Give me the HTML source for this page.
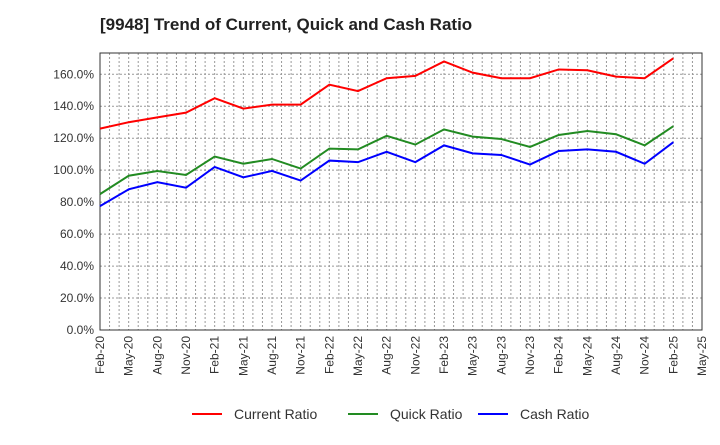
<!DOCTYPE html>
<html><head><meta charset="utf-8"><style>
body{margin:0;background:#fff;font-family:"Liberation Sans",sans-serif}
</style></head><body>
<svg id="c" width="720" height="440" xmlns="http://www.w3.org/2000/svg">
<text x="100" y="30" font-size="17" font-weight="bold" fill="#222">[9948]  Trend of Current, Quick and Cash Ratio</text>
</svg>
<script>
const categories=["Feb-20","May-20","Aug-20","Nov-20","Feb-21","May-21","Aug-21","Nov-21","Feb-22","May-22","Aug-22","Nov-22","Feb-23","May-23","Aug-23","Nov-23","Feb-24","May-24","Aug-24","Nov-24","Feb-25","May-25"];
const currentRatio=[126,130,133,136,145,138.5,141,141,153.5,149.5,157.5,159,168,161,157.5,157.5,163,162.5,158.5,157.5,170];
const quickRatio=[85,96.5,99.5,97,108.5,104,107,101,113.5,113,121.5,116,125.5,121,119.5,114.5,122,124.5,122.5,115.5,127.5];
const cashRatio=[77.5,88,92.5,89,102,95.5,99.5,93.5,106,105,111.5,105,115.5,110.5,109.5,103.5,112,113,111.5,104,117.5];
const yTicks=[0,20,40,60,80,100,120,140,160];
const NS="http://www.w3.org/2000/svg",svg=document.getElementById('c');
const L=100,R=702,T=53,B=330,yMax=173.3;
const x=i=>L+(R-L)*i/21, y=v=>B-(B-T)*v/yMax;
function mk(t,a,p){const e=document.createElementNS(NS,t);for(const k in a)e.setAttribute(k,a[k]);(p||svg).appendChild(e);return e;}
for(let m=1;m<63;m++){const xx=L+(R-L)*m/63;
const g=mk('line',{x1:xx,x2:xx,y1:T,y2:B,stroke:'#999','stroke-dasharray':'2,2','stroke-width':1});

}
yTicks.forEach(v=>{
const g=mk('line',{x1:L,x2:R,y1:y(v),y2:y(v),stroke:'#999','stroke-dasharray':'2,2'});


const t=mk('text',{x:L-6,y:y(v)+4,'text-anchor':'end','font-size':12,fill:'#333'});t.textContent=v.toFixed(1)+'%';

});
categories.forEach((c,i)=>{
const t=mk('text',{transform:`translate(${x(i)+4},${B+6}) rotate(-90)`,'text-anchor':'end','font-size':12,fill:'#333'});t.textContent=c;

});
const fr=mk('rect',{x:L,y:T,width:R-L,height:B-T,fill:'none',stroke:'#333'});


[[currentRatio,'#f00','current-ratio-line'],[quickRatio,'#228b22','quick-ratio-line'],[cashRatio,'#00f','cash-ratio-line']].forEach(([d,col,n])=>{
const p=mk('polyline',{points:d.map((v,i)=>x(i)+','+y(v)).join(' '),fill:'none',stroke:col,'stroke-width':2});

});
[['Current Ratio','#f00',192],['Quick Ratio','#228b22',348],['Cash Ratio','#00f',478]].forEach(([lab,col,lx])=>{
const g=mk('g',{});


mk('line',{x1:lx,x2:lx+30,y1:414,y2:414,stroke:col,'stroke-width':2},g);
const t=mk('text',{x:lx+42,y:419,'font-size':14,fill:'#333'},g);t.textContent=lab;});
</script>
</body></html>
